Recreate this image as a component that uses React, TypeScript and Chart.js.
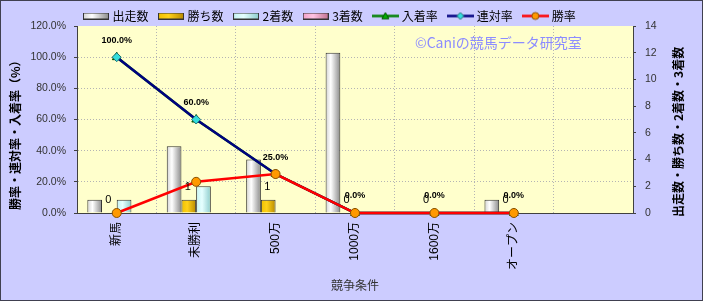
import React, { useEffect, useRef } from 'react';
import { Chart, registerables } from 'chart.js';
Chart.register(...registerables);

const categories = ['新馬', '未勝利', '500万', '1000万', '1600万', 'オープン', ''];
const starts = [1, 5, 4, 12, 0, 1, null];
const wins = [0, 1, 1, 0, 0, 0, null];
const seconds = [1, 2, 0, 0, 0, 0, null];
const thirds = [0, 0, 0, 0, 0, 0, null];
const placeRate = [100, 60, 25, 0, 0, 0, null];
const quinellaRate = [100, 60, 25, 0, 0, 0, null];
const winRate = [0, 20, 25, 0, 0, 0, null];

const seriesNames = ['出走数', '勝ち数', '2着数', '3着数', '入着率', '連対率', '勝率'];
const leftTitle = '勝率・連対率・入着率（%）';
const rightTitle = '出走数・勝ち数・2着数・3着数';
const xTitle = '競争条件';
const watermark = '©Caniの競馬データ研究室';

const JP = '"Noto Sans CJK JP", "Noto Sans", sans-serif';
const SANS = '"Liberation Sans", "Noto Sans CJK JP", sans-serif';

type Stops = [number, string][];
const whiteStops: Stops = [[0, '#d2d2d2'], [0.35, '#ffffff'], [1, '#8a8a8a']];
const goldStops: Stops = [[0, '#f0c000'], [0.4, '#ffd21a'], [1, '#b88a00']];
const cyanStops: Stops = [[0, '#c4f2f2'], [0.4, '#e6ffff'], [1, '#8ccccc']];
const pinkStops: Stops = [[0, '#f0a0c8'], [0.4, '#ffc4e2'], [1, '#c07090']];

function barGrad(stops: Stops) {
  return (c: any) => {
    const el = c.element;
    if (!el || typeof el.x !== 'number' || !el.width || isNaN(el.x)) return stops[1][1];
    const g = c.chart.ctx.createLinearGradient(el.x - el.width / 2, 0, el.x + el.width / 2, 0);
    stops.forEach(([o, col]) => g.addColorStop(o, col));
    return g;
  };
}

function barIcon(stops: Stops) {
  const c = document.createElement('canvas');
  c.width = 26; c.height = 7;
  const x = c.getContext('2d')!;
  const g = x.createLinearGradient(0, 0, 26, 0);
  stops.forEach(([o, col]) => g.addColorStop(o, col));
  x.fillStyle = g;
  x.fillRect(0, 0, 26, 7);
  x.strokeStyle = '#333';
  x.lineWidth = 1;
  x.strokeRect(0.5, 0.5, 25, 6);
  return c;
}

function drawMarker(x: CanvasRenderingContext2D, shape: string, cx: number, cy: number, r: number, fill: string, stroke: string) {
  x.beginPath();
  if (shape === 'circle') {
    x.arc(cx, cy, r, 0, Math.PI * 2);
  } else if (shape === 'diamond') {
    x.moveTo(cx, cy - r); x.lineTo(cx + r, cy); x.lineTo(cx, cy + r); x.lineTo(cx - r, cy); x.closePath();
  } else {
    x.moveTo(cx, cy - r); x.lineTo(cx + r, cy + r * 0.8); x.lineTo(cx - r, cy + r * 0.8); x.closePath();
  }
  x.fillStyle = fill; x.fill();
  x.strokeStyle = stroke; x.lineWidth = 1; x.stroke();
}

function lineIcon(color: string, shape: string, fill: string, stroke: string) {
  const c = document.createElement('canvas');
  c.width = 27; c.height = 11;
  const x = c.getContext('2d')!;
  x.strokeStyle = color; x.lineWidth = 2.5;
  x.beginPath(); x.moveTo(0, 5.5); x.lineTo(27, 5.5); x.stroke();
  drawMarker(x, shape, 13.5, 5.5, 3.5, fill, stroke);
  return c;
}

const gridGray = '#b4b4b4';
const axisDark = '#404040';

export default function App() {
  const ref = useRef<HTMLCanvasElement>(null);
  useEffect(() => {
    document.body.style.margin = '0';
    const canvas = ref.current!;
    const icons = [
      barIcon(whiteStops), barIcon(goldStops), barIcon(cyanStops), barIcon(pinkStops),
      lineIcon('#008000', 'triangle', '#00b000', '#005000'),
      lineIcon('#000080', 'diamond', '#33dddd', '#207070'),
      lineIcon('#ff0000', 'circle', '#ff9900', '#8a5000'),
    ];

    const layoutPlugin = {
      id: 'layoutFix',
      beforeLayout(chart: any) {
        const lg = chart.legend;
        if (lg && !lg._patchedFit) {
          const f = lg.fit;
          lg.fit = function () { f.call(this); this.height = 25; };
          lg._patchedFit = true;
        }
      },
      afterLayout(chart: any) {
        const lg = chart.legend;
        if (lg) { lg.left = 72.5; lg.top = -3; }
      },
    };

    const bgPlugin = {
      id: 'plotBg',
      beforeDraw(chart: any) {
        const { ctx, chartArea: a } = chart;
        ctx.save();
        ctx.fillStyle = '#ffffcc';
        ctx.fillRect(a.left, a.top, a.right - a.left, a.bottom - a.top);
        ctx.restore();
      },
      beforeDatasetsDraw(chart: any) {
        const { ctx, chartArea: a } = chart;
        ctx.save();
        ctx.font = `14px ${JP}`;
        ctx.fillStyle = '#8c8cff';
        ctx.textAlign = 'left';
        ctx.textBaseline = 'middle';
        ctx.fillText(watermark, a.left + 338, a.top + 17);
        ctx.restore();
      },
    };

    const labelPlugin = {
      id: 'dataLabels',
      afterDatasetsDraw(chart: any) {
        const ctx = chart.ctx;
        ctx.save();
        ctx.fillStyle = '#000';
        ctx.textAlign = 'center';
        ctx.textBaseline = 'middle';
        const winMeta = chart.getDatasetMeta(1);
        ctx.font = `11px ${SANS}`;
        wins.forEach((v, i) => {
          if (v === null) return;
          const el = winMeta.data[i];
          ctx.fillText(String(v), el.x - 1, el.y - 13);
        });
        const qMeta = chart.getDatasetMeta(5);
        ctx.font = `bold 9px ${SANS}`;
        quinellaRate.forEach((v, i) => {
          if (v === null) return;
          const el = qMeta.data[i];
          ctx.fillText(v.toFixed(1) + '%', el.x, el.y - 17);
        });
        ctx.restore();
      },
      afterDraw(chart: any) {
        const ctx = chart.ctx;
        const a = chart.chartArea;
        ctx.save();
        ctx.fillStyle = '#000';
        ctx.font = `bold 12px ${JP}`;
        ctx.textAlign = 'left';
        ctx.textBaseline = 'middle';
        ctx.translate(14, a.bottom - 3);
        ctx.rotate(-Math.PI / 2);
        ctx.fillText(leftTitle, 0, 0);
        ctx.restore();
        ctx.save();
        ctx.fillStyle = '#000';
        ctx.font = `bold 12px ${JP}`;
        ctx.textAlign = 'left';
        ctx.textBaseline = 'middle';
        ctx.translate(677, a.bottom + 4);
        ctx.rotate(-Math.PI / 2);
        ctx.fillText(rightTitle, 0, 0);
        ctx.restore();
      },
    };

    const barCommon = {
      type: 'bar' as const,
      yAxisID: 'y1',
      borderColor: '#333',
      borderWidth: 1,
      categoryPercentage: 0.74,
      barPercentage: 1.0,
      order: 10,
    };
    const lineCommon = {
      type: 'line' as const,
      yAxisID: 'y',
      borderWidth: 2.5,
      pointRadius: 4,
      pointBorderWidth: 1,
      clip: false as any,
      tension: 0,
      spanGaps: false,
    };

    const chart = new Chart(canvas, {
      type: 'bar',
      data: {
        labels: categories,
        datasets: [
          { ...barCommon, label: seriesNames[0], data: starts, backgroundColor: barGrad(whiteStops) },
          { ...barCommon, label: seriesNames[1], data: wins, backgroundColor: barGrad(goldStops) },
          { ...barCommon, label: seriesNames[2], data: seconds, backgroundColor: barGrad(cyanStops) },
          { ...barCommon, label: seriesNames[3], data: thirds, backgroundColor: barGrad(pinkStops) },
          { ...lineCommon, label: seriesNames[4], data: placeRate, borderColor: '#008000', pointStyle: 'triangle', pointRadius: 5, pointBackgroundColor: '#00b000', pointBorderColor: '#005000', order: 3 },
          { ...lineCommon, label: seriesNames[5], data: quinellaRate, borderColor: '#000080', pointStyle: 'rectRot', pointRadius: 4.5, pointBackgroundColor: '#33dddd', pointBorderColor: '#207070', order: 2 },
          { ...lineCommon, label: seriesNames[6], data: winRate, borderColor: '#ff0000', pointStyle: 'circle', pointRadius: 4.5, pointBackgroundColor: '#ff9900', pointBorderColor: '#8a5000', order: 1 },
        ] as any,
      },
      options: {
        responsive: false,
        maintainAspectRatio: false,
        animation: false,
        devicePixelRatio: 1,
        layout: { padding: 0 },
        plugins: {
          tooltip: { enabled: false },
          legend: {
            display: true,
            position: 'top',
            align: 'start',
            labels: {
              usePointStyle: true,
              pointStyleWidth: 21,
              padding: 12,
              color: '#000',
              font: { size: 12, family: JP },
              generateLabels: () => seriesNames.map((n, i) => ({
                text: n,
                pointStyle: icons[i] as any,
                fillStyle: 'transparent',
                strokeStyle: 'transparent',
                lineWidth: 0,
                hidden: false,
                datasetIndex: i,
                fontColor: '#000',
              })),
            },
          },
        },
        scales: {
          x: {
            type: 'category',
            offset: true,
            grid: {
              offset: true,
              drawTicks: false,
              color: (c: any) => (c.type === 'tick' && c.index > 0 ? gridGray : 'rgba(0,0,0,0)'),
            },
            border: { display: true, color: axisDark, width: 1, dash: [1, 2] },
            ticks: {
              autoSkip: false,
              minRotation: 90,
              maxRotation: 90,
              padding: 9,
              color: '#000',
              font: { size: 12, family: SANS },
            },
            title: {
              display: true,
              text: xTitle,
              color: '#333',
              font: { size: 12, family: JP },
              padding: { top: 0, bottom: 7 },
            },
            afterFit: (s: any) => { s.height = 87; },
          },
          y: {
            position: 'left',
            min: 0,
            max: 120,
            grid: {
              color: (c: any) => (c.tick && c.tick.value > 0 && c.tick.value < 120 ? gridGray : 'rgba(0,0,0,0)'),
              drawTicks: true,
              tickLength: 3,
              tickColor: axisDark,
            },
            border: { display: true, color: axisDark, width: 1, dash: [1, 2] },
            ticks: {
              stepSize: 20,
              padding: 8,
              color: '#333',
              font: { size: 10.5, family: SANS },
              callback: (v: any) => Number(v).toFixed(1) + '%',
            },
            afterFit: (s: any) => { s.width = 76; },
          },
          y1: {
            position: 'right',
            min: 0,
            max: 14,
            grid: { drawOnChartArea: false, drawTicks: true, tickLength: 3, tickColor: axisDark, color: axisDark },
            border: { display: true, color: axisDark, width: 1 },
            ticks: {
              stepSize: 2,
              padding: 9,
              color: '#333',
              font: { size: 10.5, family: SANS },
            },
            afterFit: (s: any) => { s.width = 69; },
          },
        },
      } as any,
      plugins: [layoutPlugin, bgPlugin, labelPlugin],
    });
    chart.update();
    return () => chart.destroy();
  }, []);

  return (
    <div
      style={{
        width: 703,
        height: 301,
        boxSizing: 'border-box',
        border: '1px solid #404050',
        background: '#ccccff',
      }}
    >
      <canvas ref={ref} width={701} height={299} style={{ display: 'block', width: 701, height: 299 }} />
    </div>
  );
}
